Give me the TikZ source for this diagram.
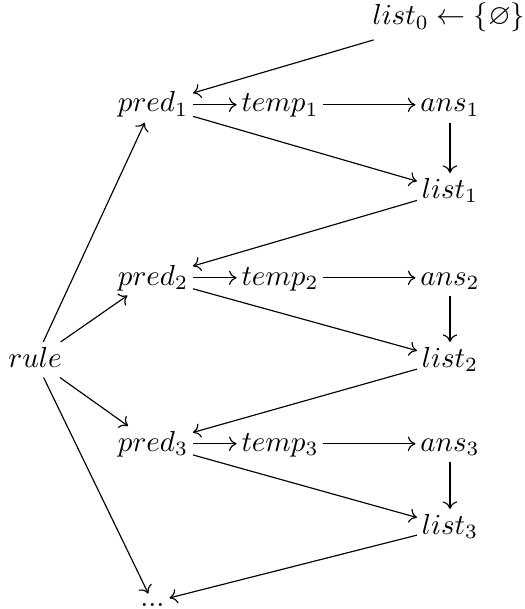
\documentclass[tikz,border=0pt]{standalone}
\usepackage{amssymb}
\usetikzlibrary{arrows.meta}
\begin{document}
\begin{tikzpicture}[x=0.345pt,y=-0.345pt,
  lbl/.style={inner sep=1.5pt, text height=6.94pt, text depth=1.94pt, anchor=base},
  arr/.style={-{To[length=2.6pt,width=5pt]}, line width=0.4pt}]
\useasboundingbox (0,0) rectangle (524,609);
% nodes
\node[lbl, inner ysep=3pt] (l0) at (449,25) {$list_0 \leftarrow \{\varnothing\}$};
\node[lbl] (p1) at (153,112) {$pred_1$};
\node[lbl] (t1) at (280,112) {$temp_1$};
\node[lbl] (a1) at (450,112) {$ans_1$};
\node[lbl] (l1) at (450,198) {$list_1$};
\node[lbl] (p2) at (153,285) {$pred_2$};
\node[lbl] (t2) at (280,285) {$temp_2$};
\node[lbl] (a2) at (450,285) {$ans_2$};
\node[lbl] (rule) at (35,367) {$rule$};
\node[lbl] (l2) at (450,367) {$list_2$};
\node[lbl] (p3) at (153,451) {$pred_3$};
\node[lbl] (t3) at (280,451) {$temp_3$};
\node[lbl] (a3) at (450,451) {$ans_3$};
\node[lbl] (l3) at (450,534) {$list_3$};
\node[inner sep=1.5pt, text height=2.6pt, text depth=0pt, anchor=base] (dots) at (152.5,606) {$...$};
% connectors
\draw[arr] (l0) -- (p1);
\draw[arr] (p1) -- (t1);
\draw[arr] (t1) -- (a1);
\draw[arr] (a1) -- (l1);
\draw[arr] (p1) -- (l1);
\draw[arr] (l1) -- (p2);
\draw[arr] (p2) -- (t2);
\draw[arr] (t2) -- (a2);
\draw[arr] (a2) -- (l2);
\draw[arr] (p2) -- (l2);
\draw[arr] (l2) -- (p3);
\draw[arr] (p3) -- (t3);
\draw[arr] (t3) -- (a3);
\draw[arr] (a3) -- (l3);
\draw[arr] (p3) -- (l3);
\draw[arr] (l3) -- (dots);
\draw[arr] (rule) -- (p1);
\draw[arr] (rule) -- (p2);
\draw[arr] (rule) -- (p3);
\draw[arr] (rule) -- (dots);
\end{tikzpicture}
\end{document}
